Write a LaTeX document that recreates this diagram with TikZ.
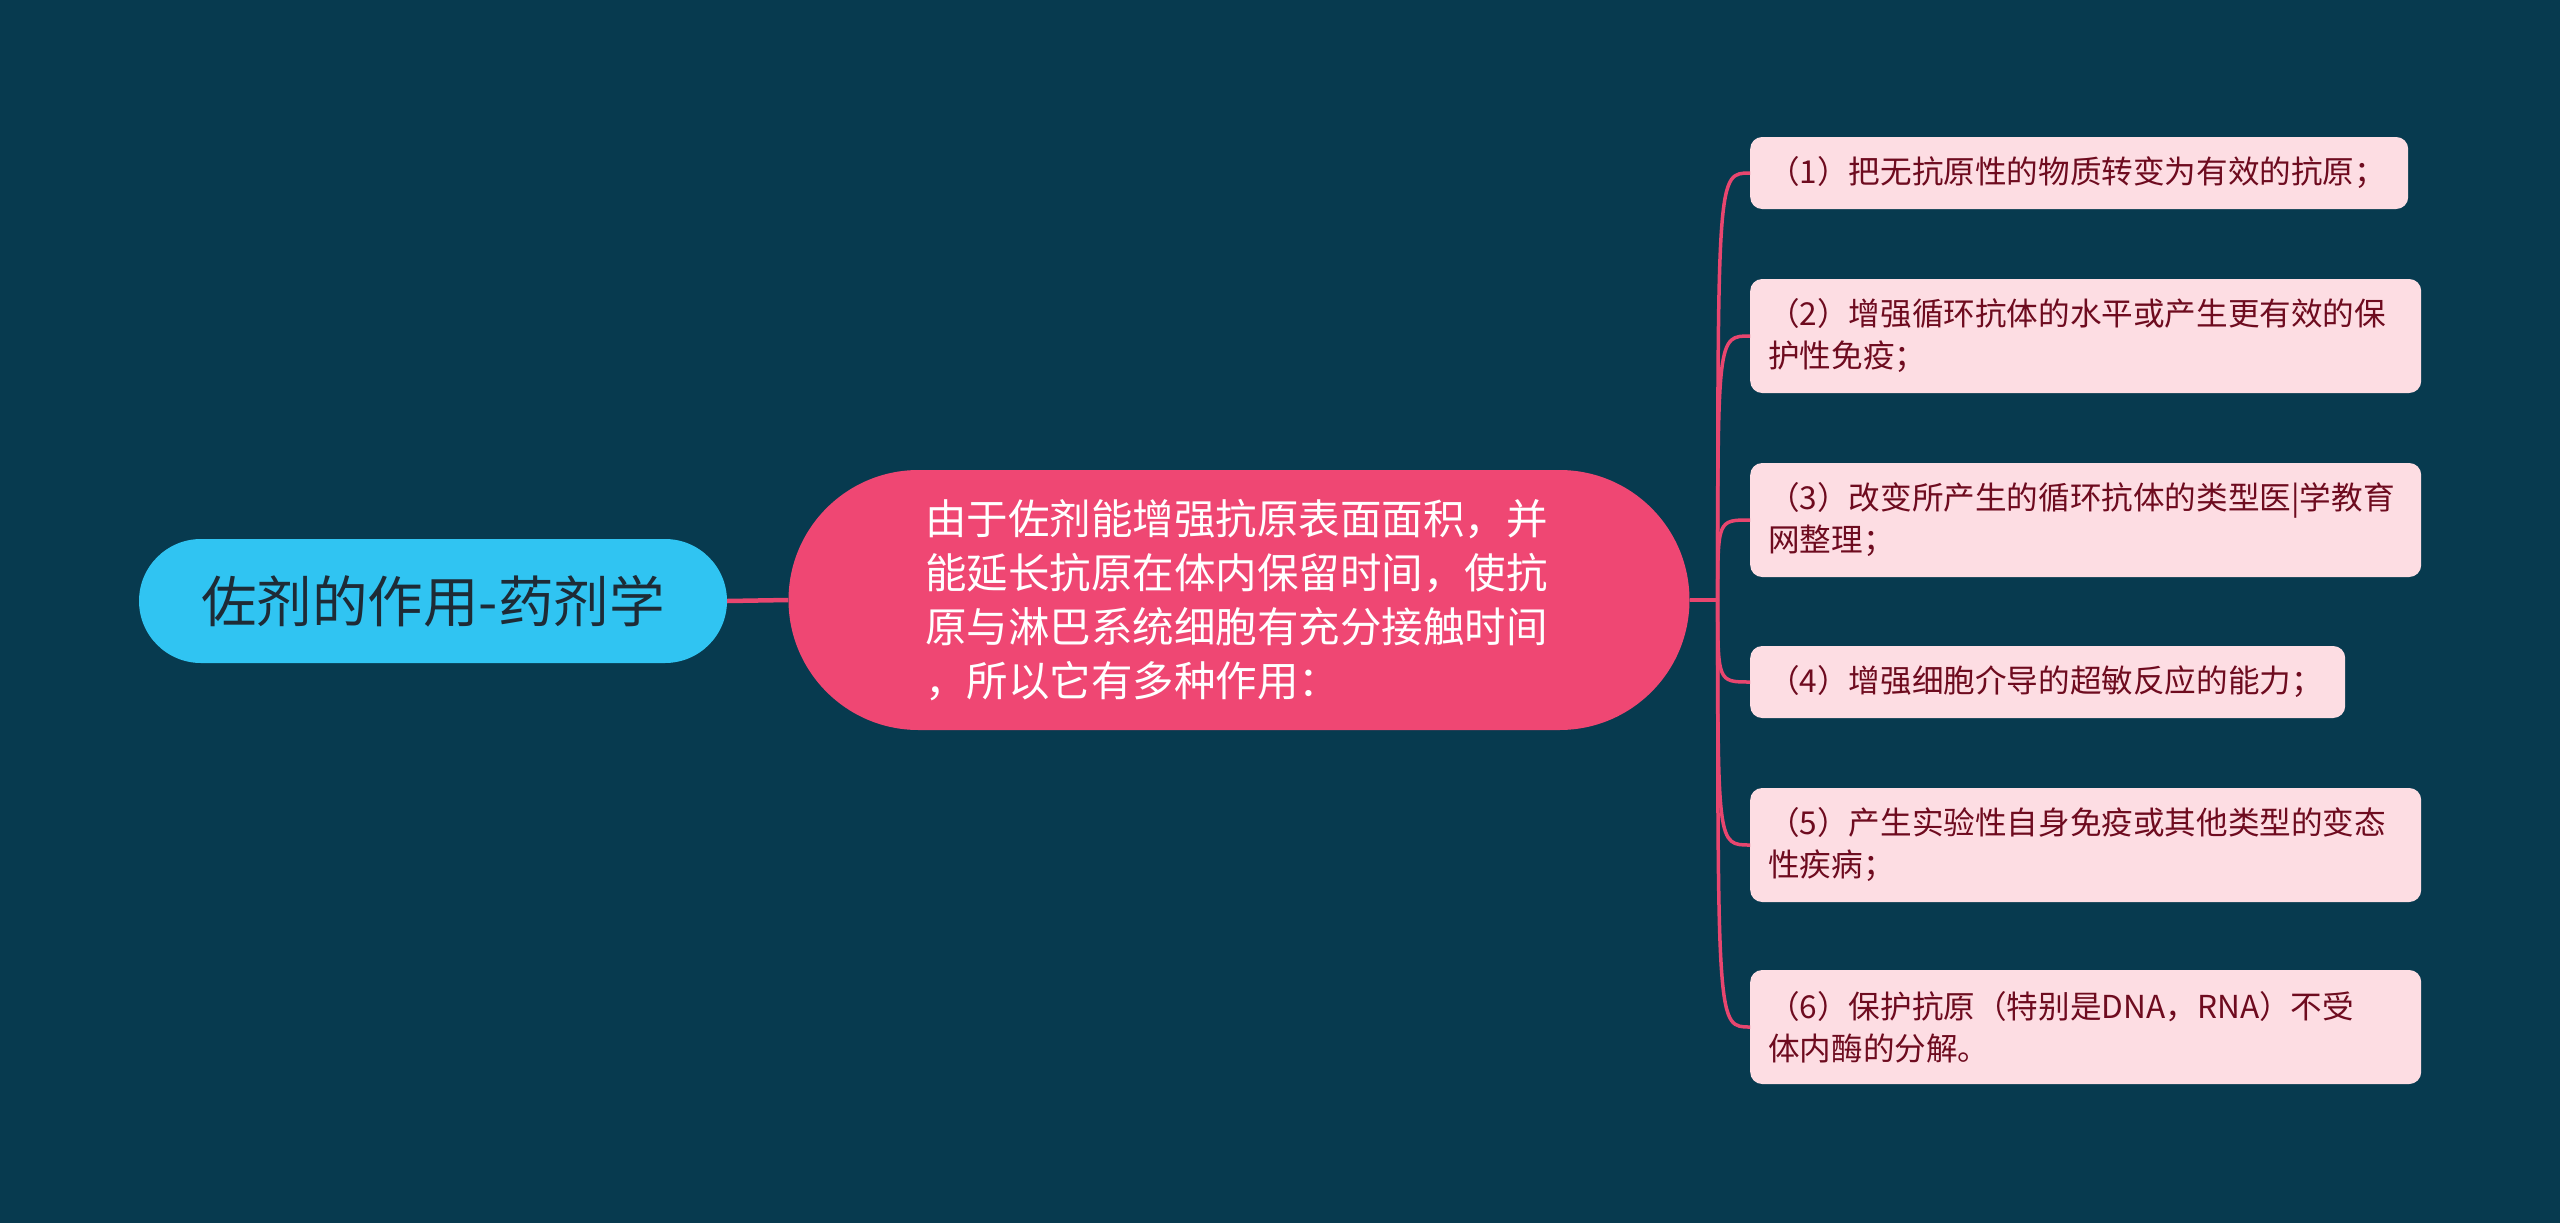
\documentclass[tikz,border=0pt]{standalone}
\usepackage{fontspec}
\setmainfont{Noto Sans CJK SC}
\usetikzlibrary{positioning}

\definecolor{bgteal}{HTML}{073A4F}
\definecolor{rootblue}{HTML}{30C4F2}
\definecolor{roottext}{HTML}{1E2B36}
\definecolor{midpink}{HTML}{EF4773}
\definecolor{leafpink}{HTML}{FDDDE3}
\definecolor{leaftext}{HTML}{6E0B1F}
\definecolor{linkpink}{HTML}{E8466F}

\begin{document}
\begin{tikzpicture}[x=1pt,y=-1pt,
  rootbox/.style={fill=rootblue,text=roottext,rounded corners=62pt,
    minimum width=588pt,minimum height=124pt,inner sep=0pt,
    font=\fontsize{55.5pt}{60pt}\selectfont},
  midbox/.style={fill=midpink,text=white,rounded corners=130pt,
    minimum width=901pt,minimum height=260pt,text width=628pt,align=left,
    font=\fontsize{41.5pt}{54pt}\selectfont},
  leafbox/.style={fill=leafpink,text=leaftext,rounded corners=12pt,
    anchor=west,align=left,inner xsep=18pt,inner ysep=0pt,
    font=\fontsize{31.6pt}{42pt}\selectfont},
  oneline/.style={leafbox,minimum height=72pt},
  twoline/.style={leafbox,minimum height=114pt,text width=635pt},
  trunk/.style={draw=linkpink,line width=4.5pt},
  twig/.style={draw=linkpink,line width=3.5pt}]
\fill[bgteal] (0,0) rectangle (2560,1223);
\useasboundingbox (0,0) rectangle (2560,1223);

% main topic and its one branch
\node[rootbox] (root) at (433,601) {佐剂的作用-药剂学};
\node[midbox] (mid) at (1239,600) {由于佐剂能增强抗原表面面积，并\\
  能延长抗原在体内保留时间，使抗\\
  原与淋巴系统细胞有充分接触时间\\
  ，所以它有多种作用：};

% the six effects
\node[oneline,text width=622pt] (l1) at (1750,173) {（1）把无抗原性的物质转变为有效的抗原；};
\node[twoline] (l2) at (1750,336) {（2）增强循环抗体的水平或产生更有效的保\\护性免疫；};
\node[twoline] (l3) at (1750,520) {（3）改变所产生的循环抗体的类型医|学教育\\网整理；};
\node[oneline,text width=559pt] (l4) at (1750,682) {（4）增强细胞介导的超敏反应的能力；};
\node[twoline] (l5) at (1750,845) {（5）产生实验性自身免疫或其他类型的变态\\性疾病；};
\node[twoline] (l6) at (1750,1027) {（6）保护抗原（特别是DNA，RNA）不受\\体内酶的分解。};

% connectors
\draw[trunk] (root.east) -- (mid.west);
\coordinate (hub) at ([xshift=28pt]mid.east);
\draw[twig] (mid.east) -- (hub);
\foreach \n in {1,...,6}
  \draw[twig] (hub) .. controls (hub |- l\n.west) .. (l\n.west);
\end{tikzpicture}
\end{document}
